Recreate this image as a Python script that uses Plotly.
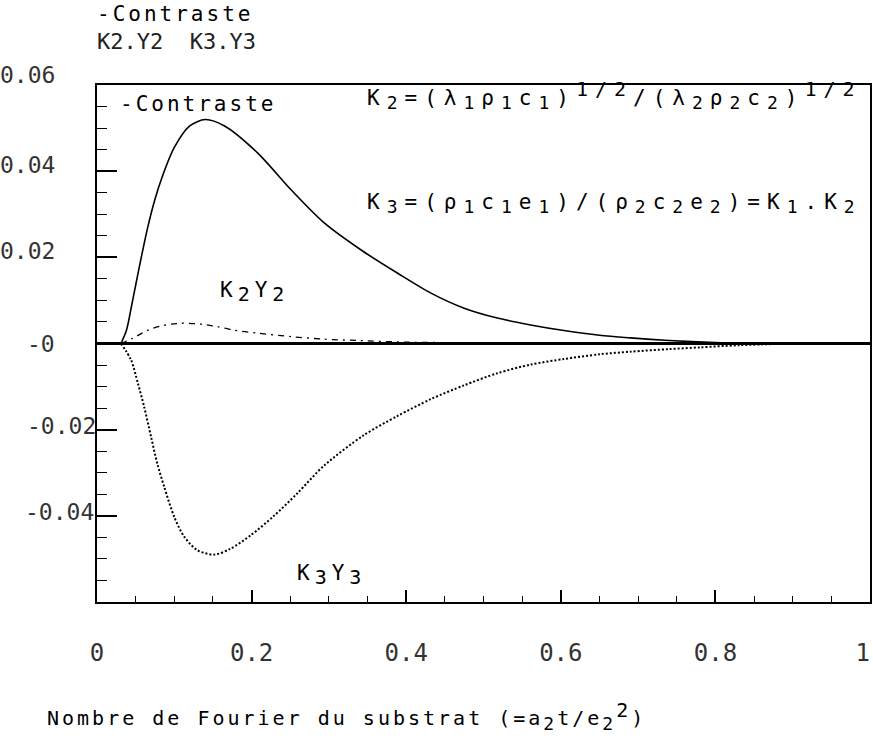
import plotly.graph_objects as go

# ---- data ----
contraste_x = [0.031, 0.038, 0.045, 0.055, 0.065, 0.075, 0.085, 0.100, 0.120, 0.140,
               0.165, 0.208, 0.251, 0.294, 0.345, 0.389, 0.432, 0.475, 0.518, 0.561,
               0.604, 0.650, 0.690, 0.740, 0.800, 0.850]
contraste_y = [0.0, 0.0030, 0.0090, 0.0180, 0.0265, 0.0335, 0.0390, 0.0455, 0.0505, 0.0520,
               0.0505, 0.0442, 0.0357, 0.0280, 0.0213, 0.0163, 0.0117, 0.0082, 0.0059, 0.0043,
               0.0030, 0.0019, 0.0013, 0.0007, 0.0002, 0.0]

k2y2_x = [0.031, 0.046, 0.066, 0.083, 0.109, 0.134, 0.156, 0.177, 0.208, 0.251,
          0.294, 0.337, 0.401, 0.466, 0.550, 0.650]
k2y2_y = [0.0, 0.0012, 0.0031, 0.0041, 0.0047, 0.0045, 0.0039, 0.0031, 0.0024, 0.0016,
          0.0010, 0.0007, 0.0003, 0.0002, 0.0001, 0.0]

k3y3_x = [0.031, 0.044, 0.053, 0.061, 0.070, 0.078, 0.087, 0.100, 0.113, 0.130,
          0.152, 0.173, 0.199, 0.229, 0.259, 0.294, 0.345, 0.389, 0.432, 0.475,
          0.518, 0.561, 0.604, 0.650, 0.690, 0.740, 0.780, 0.830, 0.900]
k3y3_y = [0.0, -0.0038, -0.0093, -0.0147, -0.0217, -0.0279, -0.0333, -0.0403, -0.0449, -0.0480,
          -0.0490, -0.0476, -0.0445, -0.0400, -0.0348, -0.0283, -0.0213, -0.0168, -0.0129, -0.0097,
          -0.0069, -0.0049, -0.0036, -0.0025, -0.0019, -0.0013, -0.0009, -0.0004, 0.0]

x_tick_vals = [0, 0.2, 0.4, 0.6, 0.8, 1]
x_tick_text = ["0", "0.2", "0.4", "0.6", "0.8", "1\u00a0"]
y_tick_vals = [0.06, 0.04, 0.02, 0.0, -0.02, -0.04]
y_tick_text = ["0.06", "0.04", "0.02", "-0", "-0.02", "-0.04"]

FONT = "DejaVu Sans Mono"

fig = go.Figure()
fig.add_trace(go.Scatter(x=contraste_x, y=contraste_y, mode="lines", name="-Contraste",
                         line=dict(color="black", width=1.6, shape="spline", smoothing=0.8)))
fig.add_trace(go.Scatter(x=k2y2_x, y=k2y2_y, mode="lines", name="K2.Y2",
                         line=dict(color="black", width=1.3, shape="spline", smoothing=0.8,
                                   dash="6px,5px,2px,5px")))
fig.add_trace(go.Scatter(x=k3y3_x, y=k3y3_y, mode="lines", name="K3.Y3",
                         line=dict(color="black", width=2, shape="spline", smoothing=0.8,
                                   dash="2px,2px")))

# plot area in page pixels: x 97..870, y 85..602
L, R, T, B = 97, 870, 85, 602
W, H = 873, 742


def px(xp):
    return (xp - L) / (R - L)


def py(yp):
    return (B - yp) / (B - T)


def spaced(s, ls):
    return '<span style="letter-spacing:%dpx">%s</span>' % (ls, s)


def sb(s, size=18):
    return '<sub><span style="font-size:%dpx">%s</span></sub>' % (size, s)


def sp(s, size=20):
    return '<sup><span style="font-size:%dpx">%s</span></sup>' % (size, s)


ann = []
txt = dict(family=FONT, size=21, color="black")
ann.append(dict(text=spaced("-Contraste", 3), x=px(95), y=py(14), xanchor="left", yanchor="middle", font=txt))
ann.append(dict(text=spaced("K2.Y2  K3.Y3", 0), x=px(95), y=py(41), xanchor="left", yanchor="middle",
                font=dict(family=FONT, size=22, color="#222")))
ann.append(dict(text=spaced("-Contraste", 3), x=px(118), y=py(104), xanchor="left", yanchor="middle", font=txt))
k2_formula = ("K" + sb("2") + "=(λ" + sb("1") + "ρ" + sb("1") + "c" + sb("1") + ")" + sp("1/2")
              + "/(λ" + sb("2") + "ρ" + sb("2") + "c" + sb("2") + ")" + sp("1/2"))
k3_formula = ("K" + sb("3") + "=(ρ" + sb("1") + "c" + sb("1") + "e" + sb("1") + ")/(ρ" + sb("2")
              + "c" + sb("2") + "e" + sb("2") + ")=K" + sb("1") + ".K" + sb("2"))
ann.append(dict(text=spaced(k2_formula, 7), x=px(365), y=py(95), xanchor="left", yanchor="middle", font=txt))
ann.append(dict(text=spaced(k3_formula, 7), x=px(365), y=py(203), xanchor="left", yanchor="middle", font=txt))
ann.append(dict(text=spaced("K" + sb("2", 20) + "Y" + sb("2", 20), 5), x=px(218), y=py(292),
                xanchor="left", yanchor="middle", font=txt))
ann.append(dict(text=spaced("K" + sb("3", 20) + "Y" + sb("3", 20), 5), x=px(295), y=py(575),
                xanchor="left", yanchor="middle", font=txt))
ann.append(dict(text=spaced("Nombre de Fourier du substrat (=a" + sb("2") + "t/e" + sb("2") + sp("2") + ")", 3),
                x=px(45), y=py(716), xanchor="left", yanchor="middle",
                font=dict(family=FONT, size=20, color="black")))

# y tick labels (plotter style placement)
label_right = {"0.06": 57, "0.04": 57, "0.02": 57, "-0": 57, "-0.02": 98, "-0.04": 96}
label_shift = {"0.06": 10, "0.04": 6, "0.02": 6, "-0": 0, "-0.02": 4, "-0.04": 4}
for v, t in zip(y_tick_vals, y_tick_text):
    ann.append(dict(text=t, xref="paper", yref="y", x=px(label_right[t]), y=v,
                    xanchor="right", yanchor="middle", yshift=label_shift[t],
                    font=dict(family=FONT, size=23, color="#333")))

for a in ann:
    a.setdefault("xref", "paper")
    a.setdefault("yref", "paper")
    a["showarrow"] = False

fig.update_layout(
    width=W, height=H,
    margin=dict(l=L, r=W - R, t=T, b=H - B, autoexpand=False),
    paper_bgcolor="white", plot_bgcolor="white",
    showlegend=False,
    annotations=ann,
    font=dict(family=FONT, color="black"),
)
fig.update_xaxes(range=[0, 1], showgrid=False, zeroline=False, automargin=False,
                 showline=True, linecolor="black", linewidth=2, mirror=True,
                 ticks="inside", ticklen=12, tickwidth=1.5, tickcolor="black",
                 tickvals=x_tick_vals, ticktext=x_tick_text,
                 tickfont=dict(family=FONT, size=24, color="#333"),
                 ticklabelstandoff=28, ticklabeloverflow="allow",
                 minor=dict(dtick=0.05, tick0=0, ticks="inside", ticklen=6, tickwidth=1.2, tickcolor="black"))
fig.update_yaxes(range=[-0.06, 0.06], showgrid=False, automargin=False,
                 zeroline=True, zerolinecolor="black", zerolinewidth=2.5,
                 showline=True, linecolor="black", linewidth=2, mirror=True,
                 ticks="inside", ticklen=20, tickwidth=1.5, tickcolor="black",
                 tickvals=y_tick_vals, showticklabels=False,
                 minor=dict(dtick=0.005, tick0=0, ticks="inside", ticklen=10, tickwidth=1.2, tickcolor="black"))

fig.write_html("out.html", config={"displayModeBar": False},
               post_script="document.body.style.margin='0';document.body.style.overflow='hidden';")
